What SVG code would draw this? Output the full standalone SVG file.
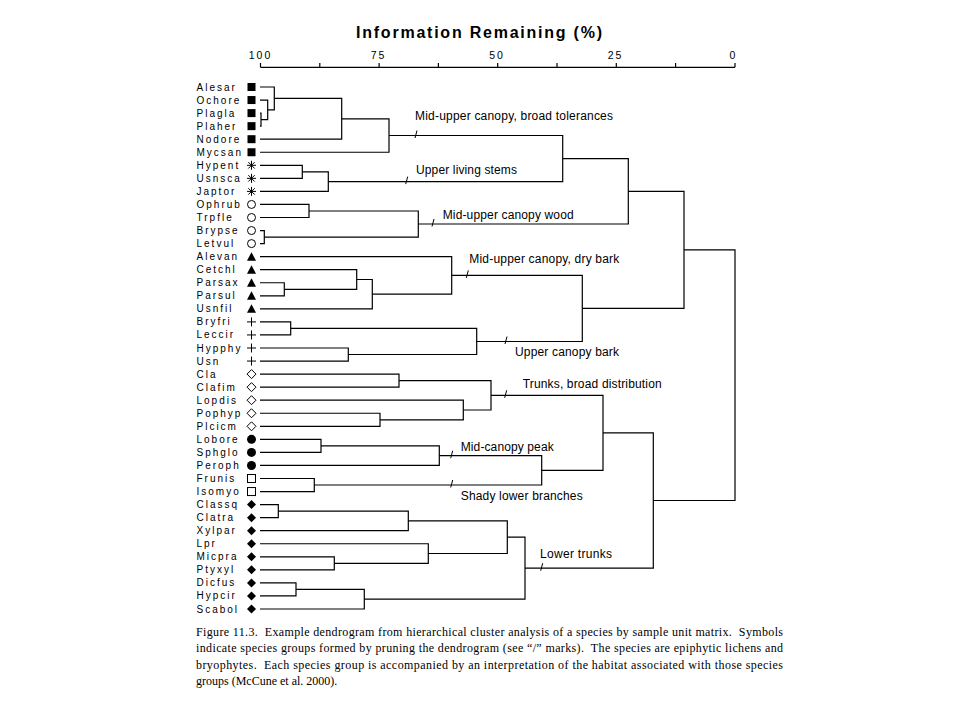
<svg xmlns="http://www.w3.org/2000/svg" xmlns:xlink="http://www.w3.org/1999/xlink" width="960" height="720" viewBox="0 0 960 720">
<style>
.sp{font-family:"Liberation Sans",Arial,sans-serif;font-size:10px;letter-spacing:2px;fill:#000}
.grp{font-family:"Liberation Sans",Arial,sans-serif;font-size:12px;fill:#000}
.ax{font-family:"Liberation Sans",Arial,sans-serif;font-size:10.5px;letter-spacing:2px;fill:#000;text-anchor:middle}
.ttl{font-family:"Liberation Sans",Arial,sans-serif;font-size:16px;font-weight:bold;fill:#000}
.cap{font-family:"Liberation Serif","Times New Roman",serif;font-size:12px;fill:#000;white-space:pre}
.ln{fill:none;stroke:#000;stroke-width:1.2}
.tk{fill:none;stroke:#000;stroke-width:1}
</style>
<defs>
<rect id="fsq" x="-4" y="-4" width="8" height="8" fill="#000"/>
<path id="star" d="M0,-4.5V4.5M-4.5,0H4.5M-3.2,-3.2L3.2,3.2M-3.2,3.2L3.2,-3.2" stroke="#000" stroke-width="1" fill="none"/>
<circle id="ocirc" r="4" fill="#fff" stroke="#000" stroke-width="1"/>
<polygon id="ftri" points="0,-4.5 4.5,4 -4.5,4" fill="#000"/>
<path id="plus" d="M0,-4.5V4.5M-4.5,0H4.5" stroke="#000" stroke-width="1" fill="none"/>
<polygon id="odia" points="0,-4.5 4.5,0 0,4.5 -4.5,0" fill="#fff" stroke="#000" stroke-width="1"/>
<circle id="fcirc" r="4.5" fill="#000"/>
<rect id="osq" x="-4" y="-4" width="8" height="8" fill="#fff" stroke="#000" stroke-width="1"/>
<polygon id="fdia" points="0,-4.5 4.5,0 0,4.5 -4.5,0" fill="#000"/>
</defs>
<rect width="960" height="720" fill="#fff"/>

<g id="axis">
<text class="ttl" x="356" y="37.5" textLength="246" lengthAdjust="spacing">Information Remaining (%)</text>
<path class="ln" d="M260.5 67.3H735M260.5 63V67.3M319.8 63V67.3M379.1 63V67.3M438.4 63V67.3M497.7 63V67.3M557 63V67.3M616.3 63V67.3M675.6 63V67.3M735 63V67.3"/>
<text class="ax" x="260.5" y="58.5">100</text>
<text class="ax" x="378.5" y="58.5">75</text>
<text class="ax" x="497" y="58.5">50</text>
<text class="ax" x="615.5" y="58.5">25</text>
<text class="ax" x="733.5" y="58.5">0</text>
</g>

<g id="species">
<g id="n-Alesar"><text class="sp" x="196.5" y="90.5">Alesar</text><use xlink:href="#fsq" x="251.5" y="87"/></g>
<g id="n-Ochore"><text class="sp" x="196.5" y="103.5">Ochore</text><use xlink:href="#fsq" x="251.5" y="100.05"/></g>
<g id="n-Plagla"><text class="sp" x="196.5" y="116.6">Plagla</text><use xlink:href="#fsq" x="251.5" y="113.1"/></g>
<g id="n-Plaher"><text class="sp" x="196.5" y="129.6">Plaher</text><use xlink:href="#fsq" x="251.5" y="126.15"/></g>
<g id="n-Nodore"><text class="sp" x="196.5" y="142.7">Nodore</text><use xlink:href="#fsq" x="251.5" y="139.2"/></g>
<g id="n-Mycsan"><text class="sp" x="196.5" y="155.7">Mycsan</text><use xlink:href="#fsq" x="251.5" y="152.25"/></g>
<g id="n-Hypent"><text class="sp" x="196.5" y="168.8">Hypent</text><use xlink:href="#star" x="251.5" y="165.3"/></g>
<g id="n-Usnsca"><text class="sp" x="196.5" y="181.8">Usnsca</text><use xlink:href="#star" x="251.5" y="178.35"/></g>
<g id="n-Japtor"><text class="sp" x="196.5" y="194.9">Japtor</text><use xlink:href="#star" x="251.5" y="191.4"/></g>
<g id="n-Ophrub"><text class="sp" x="196.5" y="207.9">Ophrub</text><use xlink:href="#ocirc" x="251.5" y="204.45"/></g>
<g id="n-Trpfle"><text class="sp" x="196.5" y="221">Trpfle</text><use xlink:href="#ocirc" x="251.5" y="217.5"/></g>
<g id="n-Brypse"><text class="sp" x="196.5" y="234">Brypse</text><use xlink:href="#ocirc" x="251.5" y="230.55"/></g>
<g id="n-Letvul"><text class="sp" x="196.5" y="247.1">Letvul</text><use xlink:href="#ocirc" x="251.5" y="243.6"/></g>
<g id="n-Alevan"><text class="sp" x="196.5" y="260.1">Alevan</text><use xlink:href="#ftri" x="251.5" y="256.65"/></g>
<g id="n-Cetchl"><text class="sp" x="196.5" y="273.2">Cetchl</text><use xlink:href="#ftri" x="251.5" y="269.7"/></g>
<g id="n-Parsax"><text class="sp" x="196.5" y="286.2">Parsax</text><use xlink:href="#ftri" x="251.5" y="282.75"/></g>
<g id="n-Parsul"><text class="sp" x="196.5" y="299.3">Parsul</text><use xlink:href="#ftri" x="251.5" y="295.8"/></g>
<g id="n-Usnfil"><text class="sp" x="196.5" y="312.3">Usnfil</text><use xlink:href="#ftri" x="251.5" y="308.85"/></g>
<g id="n-Bryfri"><text class="sp" x="196.5" y="325.4">Bryfri</text><use xlink:href="#plus" x="251.5" y="321.9"/></g>
<g id="n-Leccir"><text class="sp" x="196.5" y="338.4">Leccir</text><use xlink:href="#plus" x="251.5" y="334.95"/></g>
<g id="n-Hypphy"><text class="sp" x="196.5" y="351.5">Hypphy</text><use xlink:href="#plus" x="251.5" y="348"/></g>
<g id="n-Usn"><text class="sp" x="196.5" y="364.5">Usn</text><use xlink:href="#plus" x="251.5" y="361.05"/></g>
<g id="n-Cla"><text class="sp" x="196.5" y="377.6">Cla</text><use xlink:href="#odia" x="251.5" y="374.1"/></g>
<g id="n-Clafim"><text class="sp" x="196.5" y="390.6">Clafim</text><use xlink:href="#odia" x="251.5" y="387.15"/></g>
<g id="n-Lopdis"><text class="sp" x="196.5" y="403.7">Lopdis</text><use xlink:href="#odia" x="251.5" y="400.2"/></g>
<g id="n-Pophyp"><text class="sp" x="196.5" y="416.7">Pophyp</text><use xlink:href="#odia" x="251.5" y="413.25"/></g>
<g id="n-Plcicm"><text class="sp" x="196.5" y="429.8">Plcicm</text><use xlink:href="#odia" x="251.5" y="426.3"/></g>
<g id="n-Lobore"><text class="sp" x="196.5" y="442.8">Lobore</text><use xlink:href="#fcirc" x="251.5" y="439.35"/></g>
<g id="n-Sphglo"><text class="sp" x="196.5" y="455.9">Sphglo</text><use xlink:href="#fcirc" x="251.5" y="452.4"/></g>
<g id="n-Peroph"><text class="sp" x="196.5" y="468.9">Peroph</text><use xlink:href="#fcirc" x="251.5" y="465.45"/></g>
<g id="n-Frunis"><text class="sp" x="196.5" y="482">Frunis</text><use xlink:href="#osq" x="251.5" y="478.5"/></g>
<g id="n-Isomyo"><text class="sp" x="196.5" y="495">Isomyo</text><use xlink:href="#osq" x="251.5" y="491.55"/></g>
<g id="n-Classq"><text class="sp" x="196.5" y="508.1">Classq</text><use xlink:href="#fdia" x="251.5" y="504.6"/></g>
<g id="n-Clatra"><text class="sp" x="196.5" y="521.1">Clatra</text><use xlink:href="#fdia" x="251.5" y="517.65"/></g>
<g id="n-Xylpar"><text class="sp" x="196.5" y="534.2">Xylpar</text><use xlink:href="#fdia" x="251.5" y="530.7"/></g>
<g id="n-Lpr"><text class="sp" x="196.5" y="547.2">Lpr</text><use xlink:href="#fdia" x="251.5" y="543.75"/></g>
<g id="n-Micpra"><text class="sp" x="196.5" y="560.3">Micpra</text><use xlink:href="#fdia" x="251.5" y="556.8"/></g>
<g id="n-Ptyxyl"><text class="sp" x="196.5" y="573.3">Ptyxyl</text><use xlink:href="#fdia" x="251.5" y="569.85"/></g>
<g id="n-Dicfus"><text class="sp" x="196.5" y="586.4">Dicfus</text><use xlink:href="#fdia" x="251.5" y="582.9"/></g>
<g id="n-Hypcir"><text class="sp" x="196.5" y="599.4">Hypcir</text><use xlink:href="#fdia" x="251.5" y="595.95"/></g>
<g id="n-Scabol"><text class="sp" x="196.5" y="612.5">Scabol</text><use xlink:href="#fdia" x="251.5" y="609"/></g>
</g>

<g id="connectors" class="ln">
<path d="M260 113.1H261V126.15H260"/>
<path d="M260 100.05H267.7V119.6H261"/>
<path d="M260 87H274.3V109.8H267.7"/>
<path d="M274.3 98.4H341.7V139.2H260"/>
<path d="M341.7 118.8H389V152.25H260"/>
<path d="M260 165.3H302.3V178.35H260"/>
<path d="M302.3 171.8H328.3V191.4H260"/>
<path d="M389 135.5H562.7V181.6H328.3"/>
<path d="M260 204.45H309V217.5H260"/>
<path d="M260 230.55H264.3V243.6H260"/>
<path d="M309 211H418.3V237.1H264.3"/>
<path d="M562.7 158.6H628.3V224H418.3"/>
<path d="M260 282.75H284.3V295.8H260"/>
<path d="M260 269.7H356.7V289.3H284.3"/>
<path d="M356.7 279.5H372.3V308.85H260"/>
<path d="M260 256.65H451.7V294.2H372.3"/>
<path d="M260 321.9H290.7V334.95H260"/>
<path d="M260 348H348.3V361.05H260"/>
<path d="M290.7 328.4H476.7V354.5H348.3"/>
<path d="M451.7 275.4H582.3V341.5H476.7"/>
<path d="M628.3 191.3H684V308.4H582.3"/>
<path d="M260 374.1H399V387.15H260"/>
<path d="M260 413.25H380V426.3H260"/>
<path d="M260 400.2H463.3V419.8H380"/>
<path d="M399 380.6H491V410H463.3"/>
<path d="M260 439.35H321V452.4H260"/>
<path d="M321 445.9H439.3V465.45H260"/>
<path d="M260 478.5H314.3V491.55H260"/>
<path d="M439.3 455.7H541.7V485H314.3"/>
<path d="M491 395.3H603V470.4H541.7"/>
<path d="M260 504.6H278.3V517.65H260"/>
<path d="M278.3 511.1H408.3V530.7H260"/>
<path d="M260 556.8H334.3V569.85H260"/>
<path d="M260 543.75H428.3V563.3H334.3"/>
<path d="M408.3 520.9H507.3V553.5H428.3"/>
<path d="M260 582.9H296V595.95H260"/>
<path d="M296 589.4H364.3V609H260"/>
<path d="M507.3 537.2H525V599.2H364.3"/>
<path d="M603 432.8H653.3V568.2H525"/>
<path d="M684 249.9H735V500.5H653.3"/>
</g>

<g id="groups">
<g id="g-broad"><path class="tk" d="M415 138L417 130.5"/><text class="grp" x="415" y="120" textLength="198" lengthAdjust="spacing">Mid-upper canopy, broad tolerances</text></g>
<g id="g-stems"><path class="tk" d="M405.7 184.1L407.7 176.6"/><text class="grp" x="416" y="174.3" textLength="101" lengthAdjust="spacing">Upper living stems</text></g>
<g id="g-wood"><path class="tk" d="M432 226.5L434 219"/><text class="grp" x="442.7" y="218.5" textLength="131" lengthAdjust="spacing">Mid-upper canopy wood</text></g>
<g id="g-dry"><path class="tk" d="M466.3 277.9L468.3 270.4"/><text class="grp" x="469.3" y="263.3" textLength="150" lengthAdjust="spacing">Mid-upper canopy, dry bark</text></g>
<g id="g-bark"><path class="tk" d="M505 344L507 336.5"/><text class="grp" x="515" y="356" textLength="104" lengthAdjust="spacing">Upper canopy bark</text></g>
<g id="g-trunks"><path class="tk" d="M504.7 397.8L506.7 390.3"/><text class="grp" x="522.7" y="387.6" textLength="139" lengthAdjust="spacing">Trunks, broad distribution</text></g>
<g id="g-peak"><path class="tk" d="M450.7 458.2L452.7 450.7"/><text class="grp" x="460.7" y="451" textLength="93" lengthAdjust="spacing">Mid-canopy peak</text></g>
<g id="g-shady"><path class="tk" d="M450.7 487.5L452.7 480"/><text class="grp" x="460.7" y="499.6" textLength="122" lengthAdjust="spacing">Shady lower branches</text></g>
<g id="g-lower"><path class="tk" d="M540.7 570.7L542.7 563.2"/><text class="grp" x="540" y="558.3" textLength="72" lengthAdjust="spacing">Lower trunks</text></g>
</g>

<g id="caption">
<text class="cap" x="196" y="636" textLength="587" lengthAdjust="spacing" xml:space="preserve">Figure 11.3.  Example dendrogram from hierarchical cluster analysis of a species by sample unit matrix.  Symbols</text>
<text class="cap" x="196" y="652" textLength="587" lengthAdjust="spacing" xml:space="preserve">indicate species groups formed by pruning the dendrogram (see “/” marks).  The species are epiphytic lichens and</text>
<text class="cap" x="196" y="668.5" textLength="587" lengthAdjust="spacing" xml:space="preserve">bryophytes.  Each species group is accompanied by an interpretation of the habitat associated with those species</text>
<text class="cap" x="196" y="685">groups (McCune et al. 2000).</text>
</g>
</svg>
